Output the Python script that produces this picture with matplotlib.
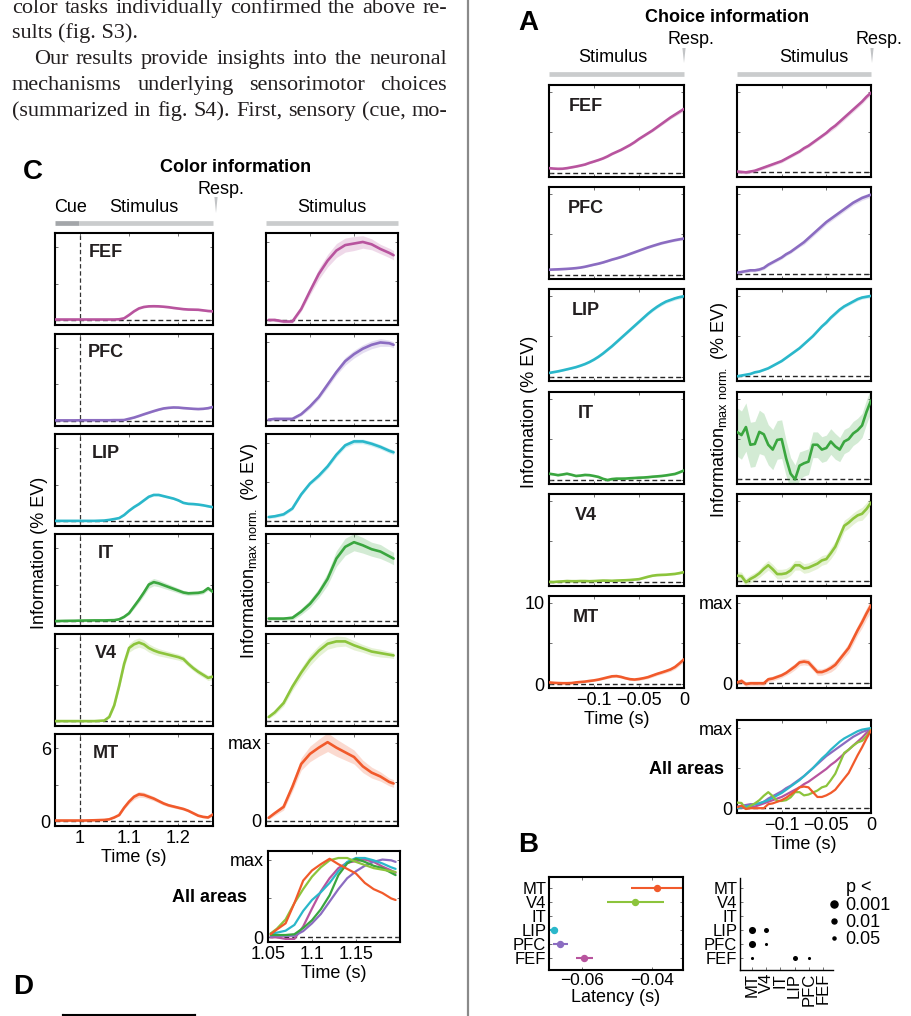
import numpy as np
import matplotlib
matplotlib.use('Agg')
import matplotlib.pyplot as plt
from matplotlib.lines import Line2D

plt.rcParams['font.family'] = ['Liberation Sans', 'DejaVu Sans']
plt.rcParams['mathtext.fontset'] = 'custom'
plt.rcParams['mathtext.rm'] = 'Liberation Sans'

# ---------------- data ----------------
areas = ['FEF', 'PFC', 'LIP', 'IT', 'V4', 'MT']
colors = {'FEF': '#b8549e', 'PFC': '#8b6cc1', 'LIP': '#2ab7ca',
          'IT': '#3aa63f', 'V4': '#8cc43c', 'MT': '#f15a2b'}

# C, color information, % EV (aligned to cue)
t_c_abs = [0.95, 0.97, 0.99, 1.01, 1.03, 1.05, 1.06, 1.07, 1.08, 1.09, 1.10, 1.11, 1.12, 1.13,
           1.14, 1.15, 1.16, 1.17, 1.18, 1.19, 1.20, 1.21, 1.22, 1.23, 1.24, 1.25, 1.26, 1.27]
c_abs_fef = [0.05, 0.05, 0.05, 0.05, 0.05, 0.05, 0.05, 0.05, 0.07, 0.15, 0.42, 0.72, 0.96, 1.08,
             1.13, 1.14, 1.13, 1.1, 1.06, 1.0, 0.95, 0.9, 0.87, 0.86, 0.85, 0.8, 0.75, 0.72]
c_abs_pfc = [0.02, 0.02, 0.02, 0.03, 0.03, 0.03, 0.03, 0.04, 0.04, 0.05, 0.15, 0.25, 0.38, 0.52,
             0.65, 0.78, 0.9, 1.0, 1.05, 1.08, 1.07, 1.03, 1.0, 0.97, 0.95, 0.97, 1.02, 1.12]
c_abs_lip = [0.02, 0.02, 0.02, 0.02, 0.02, 0.05, 0.1, 0.17, 0.25, 0.5, 0.85, 1.15, 1.4, 1.7,
             2.0, 2.15, 2.15, 2.05, 1.95, 1.85, 1.7, 1.5, 1.42, 1.4, 1.36, 1.3, 1.22, 1.14]
c_abs_it = [0.0, 0.02, 0.03, 0.05, 0.06, 0.06, 0.07, 0.08, 0.15, 0.35, 0.65, 1.2, 1.75, 2.35,
            3.0, 3.2, 3.1, 2.95, 2.8, 2.65, 2.5, 2.35, 2.28, 2.3, 2.32, 2.4, 2.7, 2.4]
c_abs_v4 = [0.0, 0.0, 0.0, 0.0, 0.0, 0.05, 0.35, 1.3, 2.9, 4.7, 6.0, 6.3, 6.45, 6.3,
            6.0, 5.8, 5.65, 5.55, 5.45, 5.35, 5.25, 5.1, 4.7, 4.35, 4.05, 3.8, 3.55, 3.65]
c_abs_mt = [0.05, 0.05, 0.05, 0.05, 0.07, 0.1, 0.15, 0.3, 0.5, 1.1, 1.6, 2.0, 2.2, 2.15,
            2.0, 1.85, 1.65, 1.45, 1.3, 1.2, 1.1, 1.0, 0.85, 0.65, 0.45, 0.35, 0.3, 0.55]
c_abs_fef_se = [0.03, 0.03, 0.03, 0.03, 0.03, 0.03, 0.03, 0.03, 0.03, 0.04, 0.05, 0.06, 0.07, 0.07,
                0.07, 0.07, 0.07, 0.07, 0.07, 0.07, 0.07, 0.07, 0.07, 0.07, 0.07, 0.07, 0.07, 0.07]
c_abs_pfc_se = [0.03, 0.03, 0.03, 0.03, 0.03, 0.03, 0.03, 0.03, 0.03, 0.03, 0.04, 0.05, 0.05, 0.06,
                0.06, 0.06, 0.07, 0.07, 0.07, 0.07, 0.07, 0.07, 0.07, 0.07, 0.07, 0.07, 0.07, 0.07]
c_abs_lip_se = [0.03, 0.03, 0.03, 0.03, 0.03, 0.03, 0.03, 0.03, 0.04, 0.05, 0.06, 0.07, 0.08, 0.08,
                0.09, 0.09, 0.09, 0.09, 0.08, 0.08, 0.08, 0.08, 0.07, 0.07, 0.07, 0.07, 0.07, 0.07]
c_abs_it_se = [0.04, 0.04, 0.04, 0.04, 0.04, 0.04, 0.04, 0.04, 0.05, 0.08, 0.12, 0.18, 0.22, 0.26,
               0.3, 0.3, 0.28, 0.26, 0.24, 0.22, 0.2, 0.18, 0.17, 0.17, 0.17, 0.17, 0.18, 0.18]
c_abs_v4_se = [0.03, 0.03, 0.03, 0.03, 0.03, 0.04, 0.1, 0.2, 0.25, 0.3, 0.35, 0.38, 0.38, 0.36,
               0.34, 0.32, 0.3, 0.28, 0.27, 0.26, 0.25, 0.24, 0.23, 0.22, 0.22, 0.22, 0.22, 0.22]
c_abs_mt_se = [0.03, 0.03, 0.03, 0.03, 0.03, 0.03, 0.03, 0.03, 0.06, 0.12, 0.18, 0.22, 0.24, 0.22,
               0.2, 0.18, 0.16, 0.14, 0.13, 0.12, 0.11, 0.1, 0.1, 0.1, 0.09, 0.09, 0.09, 0.09]

# C, color information, max normalized
t_c_norm = [1.053, 1.06, 1.07, 1.08, 1.09, 1.10, 1.11, 1.12, 1.13, 1.14, 1.15, 1.16, 1.17, 1.18, 1.19, 1.195]
c_norm_fef = [0.0, 0.0, -0.02, -0.02, 0.14, 0.37, 0.59, 0.76, 0.89, 0.96, 0.98, 1.0, 0.97, 0.91, 0.86, 0.83]
c_norm_pfc = [0.01, 0.02, 0.02, 0.02, 0.08, 0.18, 0.3, 0.46, 0.62, 0.76, 0.85, 0.92, 0.97, 1.0, 0.99, 0.97]
c_norm_lip = [0.05, 0.06, 0.085, 0.16, 0.34, 0.48, 0.58, 0.7, 0.85, 0.97, 1.02, 1.02, 0.99, 0.95, 0.9, 0.88]
c_norm_it = [0.03, 0.03, 0.03, 0.04, 0.12, 0.22, 0.36, 0.54, 0.8, 0.95, 1.01, 0.97, 0.92, 0.89, 0.83, 0.8]
c_norm_v4 = [0.05, 0.11, 0.23, 0.44, 0.62, 0.78, 0.9, 0.99, 1.02, 1.02, 0.97, 0.93, 0.89, 0.87, 0.85, 0.84]
c_norm_mt = [0.04, 0.1, 0.18, 0.44, 0.73, 0.86, 0.94, 1.01, 0.94, 0.88, 0.82, 0.7, 0.62, 0.57, 0.5, 0.48]
c_norm_fef_se = [0.02, 0.02, 0.02, 0.02, 0.03, 0.05, 0.07, 0.08, 0.09, 0.09, 0.09, 0.08, 0.07, 0.06, 0.06, 0.06]
c_norm_pfc_se = [0.02, 0.02, 0.02, 0.02, 0.02, 0.03, 0.03, 0.04, 0.04, 0.05, 0.05, 0.05, 0.05, 0.05, 0.04, 0.04]
c_norm_lip_se = [0.02, 0.02, 0.02, 0.02, 0.02, 0.02, 0.03, 0.03, 0.03, 0.03, 0.03, 0.03, 0.03, 0.03, 0.03, 0.03]
c_norm_it_se = [0.02, 0.02, 0.02, 0.03, 0.04, 0.05, 0.06, 0.08, 0.1, 0.11, 0.11, 0.1, 0.09, 0.09, 0.08, 0.08]
c_norm_v4_se = [0.02, 0.03, 0.04, 0.05, 0.06, 0.07, 0.07, 0.07, 0.07, 0.06, 0.06, 0.05, 0.05, 0.05, 0.04, 0.04]
c_norm_mt_se = [0.02, 0.03, 0.04, 0.06, 0.08, 0.1, 0.11, 0.12, 0.11, 0.1, 0.09, 0.08, 0.07, 0.06, 0.05, 0.05]

# A, choice information (aligned to response)
t_a = [-0.15, -0.145, -0.14, -0.135, -0.13, -0.125, -0.12, -0.115, -0.11, -0.105, -0.10,
       -0.095, -0.09, -0.085, -0.08, -0.075, -0.07, -0.065, -0.06, -0.055, -0.05,
       -0.045, -0.04, -0.035, -0.03, -0.025, -0.02, -0.015, -0.01, -0.005, 0.0]
a_abs_fef = [0.6, 0.55, 0.52, 0.53, 0.6, 0.7, 0.8, 0.92, 1.05, 1.25, 1.42, 1.6, 1.8, 2.05, 2.35, 2.6,
             2.85, 3.15, 3.45, 3.8, 4.2, 4.55, 4.9, 5.25, 5.65, 6.05, 6.45, 6.85, 7.2, 7.55, 7.9]
a_abs_pfc = [0.65, 0.68, 0.7, 0.73, 0.76, 0.8, 0.85, 0.92, 1.02, 1.15, 1.28, 1.4, 1.55, 1.72, 1.9, 2.05,
             2.22, 2.4, 2.6, 2.8, 3.0, 3.2, 3.4, 3.58, 3.75, 3.92, 4.05, 4.18, 4.3, 4.4, 4.5]
a_abs_lip = [0.5, 0.6, 0.7, 0.82, 0.95, 1.08, 1.22, 1.4, 1.6, 1.85, 2.15, 2.5, 2.9, 3.35, 3.8, 4.3,
             4.8, 5.3, 5.8, 6.3, 6.8, 7.3, 7.8, 8.25, 8.65, 9.0, 9.3, 9.5, 9.7, 9.85, 9.95]
a_abs_it = [0.78, 0.7, 0.6, 0.68, 0.78, 0.65, 0.5, 0.55, 0.63, 0.6, 0.5, 0.38, 0.15, 0.0, 0.12, 0.17,
            0.17, 0.18, 0.22, 0.25, 0.29, 0.31, 0.35, 0.41, 0.45, 0.5, 0.57, 0.66, 0.75, 0.95, 1.18]
a_abs_v4 = [0.02, 0.0, 0.05, 0.08, 0.12, 0.1, 0.1, 0.12, 0.12, 0.1, 0.12, 0.15, 0.18, 0.17, 0.15, 0.18,
            0.2, 0.22, 0.25, 0.3, 0.35, 0.5, 0.65, 0.78, 0.85, 0.88, 0.9, 0.95, 1.0, 1.1, 1.22]
a_abs_mt = [0.2, 0.15, 0.12, 0.1, 0.1, 0.12, 0.2, 0.25, 0.3, 0.38, 0.45, 0.55, 0.68, 0.82, 0.95, 0.98,
            0.88, 0.72, 0.6, 0.55, 0.62, 0.72, 0.85, 1.05, 1.25, 1.42, 1.6, 1.8, 2.1, 2.55, 3.05]
a_abs_fef_se = [0.1, 0.1, 0.1, 0.1, 0.1, 0.1, 0.1, 0.1, 0.1, 0.1, 0.1, 0.1, 0.12, 0.12, 0.12, 0.12,
                0.13, 0.13, 0.13, 0.14, 0.14, 0.15, 0.15, 0.16, 0.17, 0.18, 0.19, 0.2, 0.22, 0.24, 0.26]
a_abs_pfc_se = [0.08, 0.08, 0.08, 0.08, 0.08, 0.08, 0.08, 0.08, 0.09, 0.09, 0.09, 0.09, 0.1, 0.1, 0.1, 0.1,
                0.11, 0.11, 0.11, 0.12, 0.12, 0.12, 0.13, 0.13, 0.13, 0.14, 0.14, 0.14, 0.15, 0.15, 0.15]
a_abs_lip_se = [0.1, 0.1, 0.1, 0.1, 0.1, 0.1, 0.1, 0.11, 0.11, 0.12, 0.12, 0.13, 0.13, 0.14, 0.14, 0.15,
                0.15, 0.16, 0.16, 0.17, 0.17, 0.18, 0.18, 0.19, 0.19, 0.2, 0.2, 0.21, 0.22, 0.23, 0.24]
a_abs_it_se = [0.12, 0.12, 0.12, 0.12, 0.12, 0.12, 0.12, 0.12, 0.12, 0.12, 0.12, 0.12, 0.12, 0.12, 0.11, 0.11,
               0.11, 0.11, 0.11, 0.11, 0.11, 0.11, 0.11, 0.11, 0.11, 0.11, 0.12, 0.12, 0.12, 0.13, 0.14]
a_abs_v4_se = [0.08, 0.08, 0.08, 0.08, 0.08, 0.08, 0.08, 0.08, 0.08, 0.08, 0.08, 0.08, 0.08, 0.08, 0.08, 0.08,
               0.08, 0.08, 0.08, 0.08, 0.08, 0.09, 0.09, 0.09, 0.09, 0.1, 0.1, 0.1, 0.1, 0.11, 0.12]
a_abs_mt_se = [0.1, 0.1, 0.1, 0.1, 0.1, 0.1, 0.1, 0.1, 0.11, 0.11, 0.12, 0.12, 0.13, 0.14, 0.15, 0.15,
               0.15, 0.15, 0.15, 0.15, 0.16, 0.17, 0.18, 0.19, 0.2, 0.21, 0.22, 0.24, 0.26, 0.28, 0.3]

a_norm_fef = [0.01, 0.005, 0.0, 0.01, 0.02, 0.04, 0.06, 0.08, 0.1, 0.12, 0.14, 0.17, 0.2, 0.23, 0.26, 0.3,
              0.33, 0.37, 0.41, 0.45, 0.49, 0.54, 0.58, 0.63, 0.68, 0.73, 0.78, 0.83, 0.88, 0.94, 0.99]
a_norm_pfc = [0.02, 0.03, 0.04, 0.05, 0.05, 0.06, 0.08, 0.12, 0.15, 0.18, 0.21, 0.25, 0.28, 0.32, 0.36, 0.4,
              0.45, 0.5, 0.55, 0.6, 0.65, 0.69, 0.73, 0.77, 0.81, 0.85, 0.89, 0.92, 0.95, 0.97, 0.99]
a_norm_lip = [0.0, 0.01, 0.02, 0.03, 0.05, 0.06, 0.08, 0.1, 0.13, 0.16, 0.19, 0.23, 0.27, 0.31, 0.35, 0.4,
              0.45, 0.5, 0.56, 0.62, 0.67, 0.73, 0.78, 0.83, 0.87, 0.9, 0.93, 0.96, 0.98, 0.99, 1.0]
a_norm_it = [0.59, 0.55, 0.65, 0.43, 0.44, 0.59, 0.56, 0.43, 0.37, 0.49, 0.5, 0.26, 0.07, 0.0, 0.17, 0.2,
             0.22, 0.43, 0.43, 0.37, 0.39, 0.47, 0.41, 0.37, 0.47, 0.5, 0.57, 0.61, 0.67, 0.84, 0.98]
a_norm_v4 = [0.07, 0.065, -0.01, 0.03, 0.06, 0.1, 0.155, 0.2, 0.15, 0.09, 0.09, 0.1, 0.135, 0.2, 0.2, 0.16,
             0.17, 0.195, 0.22, 0.26, 0.277, 0.35, 0.43, 0.56, 0.69, 0.73, 0.78, 0.82, 0.84, 0.9, 0.98]
a_norm_mt = [0.01, 0.03, -0.01, 0.0, 0.0, 0.0, 0.0, 0.05, 0.06, 0.08, 0.1, 0.13, 0.17, 0.21, 0.26, 0.27,
             0.26, 0.2, 0.14, 0.14, 0.16, 0.19, 0.23, 0.3, 0.37, 0.44, 0.55, 0.66, 0.76, 0.87, 0.97]
a_norm_fef_se = [0.02, 0.02, 0.02, 0.02, 0.02, 0.02, 0.02, 0.02, 0.02, 0.02, 0.02, 0.02, 0.02, 0.02, 0.02, 0.02,
                 0.02, 0.02, 0.02, 0.02, 0.02, 0.03, 0.03, 0.03, 0.03, 0.03, 0.03, 0.03, 0.03, 0.03, 0.03]
a_norm_pfc_se = [0.02, 0.02, 0.02, 0.02, 0.02, 0.02, 0.02, 0.02, 0.02, 0.02, 0.02, 0.02, 0.02, 0.02, 0.02, 0.03,
                 0.03, 0.03, 0.03, 0.03, 0.03, 0.03, 0.03, 0.03, 0.03, 0.03, 0.03, 0.03, 0.03, 0.03, 0.03]
a_norm_lip_se = [0.01, 0.01, 0.01, 0.01, 0.01, 0.01, 0.01, 0.01, 0.01, 0.01, 0.01, 0.01, 0.01, 0.01, 0.01, 0.01,
                 0.01, 0.01, 0.01, 0.01, 0.02, 0.02, 0.02, 0.02, 0.02, 0.02, 0.02, 0.02, 0.02, 0.02, 0.02]
a_norm_it_se = [0.3, 0.3, 0.3, 0.28, 0.28, 0.27, 0.26, 0.25, 0.25, 0.24, 0.24, 0.22, 0.2, 0.18, 0.17, 0.16,
                0.16, 0.16, 0.16, 0.16, 0.16, 0.16, 0.16, 0.15, 0.15, 0.15, 0.15, 0.15, 0.15, 0.15, 0.15]
a_norm_v4_se = [0.05, 0.05, 0.05, 0.05, 0.05, 0.05, 0.06, 0.06, 0.06, 0.06, 0.06, 0.06, 0.06, 0.06, 0.06, 0.06,
                0.06, 0.06, 0.06, 0.06, 0.06, 0.07, 0.07, 0.07, 0.07, 0.07, 0.07, 0.07, 0.08, 0.08, 0.08]
a_norm_mt_se = [0.03, 0.03, 0.03, 0.03, 0.03, 0.03, 0.03, 0.03, 0.03, 0.03, 0.03, 0.03, 0.04, 0.04, 0.04, 0.04,
                0.04, 0.04, 0.04, 0.04, 0.04, 0.05, 0.05, 0.05, 0.05, 0.06, 0.06, 0.06, 0.07, 0.07, 0.08]

# B, choice latency (s) and significance of pairwise differences
lat_areas = ['MT', 'V4', 'LIP', 'PFC', 'FEF']
lat_mean = [-0.0386, -0.0447, -0.0682, -0.0664, -0.0594]
lat_lo = [-0.0461, -0.0529, -0.0694, -0.0684, -0.0617]
lat_hi = [-0.0300, -0.0365, -0.0670, -0.0641, -0.0568]
b_rows = ['MT', 'V4', 'IT', 'LIP', 'PFC', 'FEF']
sig_row = ['LIP', 'LIP', 'PFC', 'PFC', 'FEF', 'FEF', 'FEF']
sig_col = ['MT', 'V4', 'MT', 'V4', 'MT', 'LIP', 'PFC']
sig_p = [0.001, 0.01, 0.001, 0.05, 0.05, 0.01, 0.05]
p_levels = [0.001, 0.01, 0.05]
p_sizes = [26, 13, 5]

body = ['color tasks individually confirmed the above re-',
        'sults (fig. S3).',
        'Our results provide insights into the neuronal',
        'mechanisms underlying sensorimotor choices',
        '(summarized in fig. S4). First, sensory (cue, mo-']

c_abs = {'FEF': (c_abs_fef, c_abs_fef_se), 'PFC': (c_abs_pfc, c_abs_pfc_se),
         'LIP': (c_abs_lip, c_abs_lip_se), 'IT': (c_abs_it, c_abs_it_se),
         'V4': (c_abs_v4, c_abs_v4_se), 'MT': (c_abs_mt, c_abs_mt_se)}
c_norm = {'FEF': (c_norm_fef, c_norm_fef_se), 'PFC': (c_norm_pfc, c_norm_pfc_se),
          'LIP': (c_norm_lip, c_norm_lip_se), 'IT': (c_norm_it, c_norm_it_se),
          'V4': (c_norm_v4, c_norm_v4_se), 'MT': (c_norm_mt, c_norm_mt_se)}
a_abs = {'FEF': (a_abs_fef, a_abs_fef_se), 'PFC': (a_abs_pfc, a_abs_pfc_se),
         'LIP': (a_abs_lip, a_abs_lip_se), 'IT': (a_abs_it, a_abs_it_se),
         'V4': (a_abs_v4, a_abs_v4_se), 'MT': (a_abs_mt, a_abs_mt_se)}
a_norm = {'FEF': (a_norm_fef, a_norm_fef_se), 'PFC': (a_norm_pfc, a_norm_pfc_se),
          'LIP': (a_norm_lip, a_norm_lip_se), 'IT': (a_norm_it, a_norm_it_se),
          'V4': (a_norm_v4, a_norm_v4_se), 'MT': (a_norm_mt, a_norm_mt_se)}

# ---------------- layout ----------------
W, H = 912, 1016
fig = plt.figure(figsize=(W / 100, H / 100), dpi=100)

ov = fig.add_axes([0, 0, 1, 1], zorder=-1)
ov.set_xlim(0, W)
ov.set_ylim(H, 0)
ov.axis('off')

BAR_DARK, BAR_LIGHT = '#a3a6a9', '#cacccd'


def px_axes(x0, y0, x1, y1):
    return fig.add_axes([x0 / W, 1 - y1 / H, (x1 - x0) / W, (y1 - y0) / H])


def ftext(x, y, s, **kw):
    kw.setdefault('fontsize', 13)
    kw.setdefault('ha', 'center')
    kw.setdefault('va', 'center')
    return fig.text(x / W, 1 - y / H, s, **kw)


def panel(rect, xlim, ylim, xticks, yticks):
    ax = px_axes(*rect)
    ax.set_xlim(*xlim)
    ax.set_ylim(*ylim)
    ax.set_xticks(xticks)
    ax.set_yticks(yticks)
    ax.set_xticklabels([])
    ax.set_yticklabels([])
    ax.tick_params(direction='in', length=2.5, width=0.6, top=True, right=True,
                   labelsize=13, pad=3, color='0.35')
    for s in ax.spines.values():
        s.set_linewidth(1.5)
    ax.axhline(0, color='0.15', ls=(0, (3.5, 2.2)), lw=1.0, zorder=1)
    return ax


def trace(ax, t, y, se, color, lw=1.9, band=True):
    t, y, se = np.asarray(t), np.asarray(y), np.asarray(se)
    if band:
        ax.fill_between(t, y - se, y + se, color=color, alpha=0.22, lw=0, zorder=2)
    ax.plot(t, y, color=color, lw=lw, zorder=3, solid_capstyle='round')


def bar(x0, x1, y, color):
    ov.plot([x0, x1], [y, y], color=color, lw=3.4, solid_capstyle='butt')


def wedge(x, y0, y1):
    ov.fill([x - 1.6, x + 1.6, x], [y0, y0, y1], color='#c2c4c6', lw=0)


# separator between text columns
ov.plot([468, 468], [0, H], color='#8a8a8a', lw=1.6)

# body text (justified)
renderer = fig.canvas.get_renderer()
body_x0 = [12, 12, 34, 12, 12]
body_just = [True, False, True, True, True]
body_base = [13, 38, 64, 90, 116]
for line, x0, just, yb in zip(body, body_x0, body_just, body_base):
    kw = dict(family=['Liberation Serif', 'DejaVu Serif'], fontsize=16, va='baseline', color='#231f20')
    if not just:
        fig.text(x0 / W, 1 - yb / H, line, **kw)
        continue
    words = line.split(' ')
    objs = [fig.text(0, 1 - yb / H, w, **kw) for w in words]
    widths = [o.get_window_extent(renderer).width for o in objs]
    gap = (447 - x0 - sum(widths)) / (len(words) - 1)
    x = x0
    for o, wd in zip(objs, widths):
        o.set_x(x / W)
        x += wd + gap

letter_kw = dict(family=['Liberation Sans Narrow', 'Liberation Sans'], fontweight='bold', fontsize=20)
ftext(33, 172, 'C', **letter_kw)
ftext(528, 23, 'A', **letter_kw)
ftext(528, 845, 'B', **letter_kw)
ftext(23, 987, 'D', **letter_kw)

# ---------------- panel C ----------------
ftext(236, 167, 'Color information', fontweight='bold')
ftext(221, 189, 'Resp.')
ftext(71, 207, 'Cue')
ftext(144, 207, 'Stimulus')
ftext(332, 207, 'Stimulus')
bar(55, 79, 223, BAR_DARK)
bar(79, 213, 223, BAR_LIGHT)
bar(266, 398, 223, BAR_LIGHT)
wedge(216, 197, 213)

c_tops = [233, 333.5, 434, 534, 634, 734]
for i, a in enumerate(areas):
    top = c_tops[i]
    ax = panel((55, top, 213, top + 92), (0.95, 1.27), (-0.4, 7.15), [1.0, 1.1, 1.2], [0, 3, 6])
    ax.axvline(1.0, color='0.2', ls=(0, (3.5, 2.2)), lw=0.9, zorder=1)
    y, se = c_abs[a]
    trace(ax, t_c_abs, y, se, colors[a])
    ax.text(0.323, 0.79, a, transform=ax.transAxes, fontsize=13, fontweight='bold',
            ha='center', va='center', color='#231f20')
    if a == 'MT':
        ax.set_xticklabels(['1', '1.1', '1.2'])
        ax.set_yticklabels(['0', '', '6'])
        ax.set_xlabel('Time (s)', fontsize=13, labelpad=1)

    axr = panel((266, top, 398, top + 92), (1.05, 1.2), (-0.065, 1.115), [1.05, 1.1, 1.15], [0, 0.5, 1])
    y, se = c_norm[a]
    trace(axr, t_c_norm, y, se, colors[a])
    if a == 'MT':
        axr.set_yticklabels(['0', '', 'max'])

ftext(40, 553, 'Information (% EV)', rotation=90)
ftext(250, 551, r'Information$_{\mathrm{max\ norm.}}$ (% EV)', rotation=90)

ax = panel((268, 851, 400, 942), (1.05, 1.2), (-0.06, 1.11), [1.05, 1.1, 1.15], [0, 0.5, 1])
for a in areas:
    y, se = c_norm[a]
    trace(ax, t_c_norm, y, se, colors[a], lw=1.6, band=False)
ax.set_xticklabels(['1.05', '1.1', '1.15'])
ax.set_yticklabels(['0', '', 'max'])
ax.set_xlabel('Time (s)', fontsize=13, labelpad=1)
ftext(247, 898, 'All areas', fontweight='bold', ha='right')

# ---------------- panel A ----------------
ftext(727, 18, 'Choice information', fontweight='bold')
ftext(613, 57, 'Stimulus')
ftext(691, 40, 'Resp.')
ftext(814, 57, 'Stimulus')
ftext(879, 40, 'Resp.')
bar(549, 684, 74, BAR_LIGHT)
bar(737, 871, 74, BAR_LIGHT)
wedge(684, 48, 63)
wedge(872, 48, 63)

a_tops = [85, 187, 289, 392, 494, 596]
for i, a in enumerate(areas):
    top = a_tops[i]
    ax = panel((549, top, 684, top + 92), (-0.15, 0.0), (-0.49, 10.85), [-0.1, -0.05, 0.0], [0, 5, 10])
    y, se = a_abs[a]
    trace(ax, t_a, y, se, colors[a])
    ax.text(0.274, 0.77, a, transform=ax.transAxes, fontsize=13, fontweight='bold',
            ha='center', va='center', color='#231f20')
    if a == 'MT':
        ax.set_xticklabels(['\u22120.1', '\u22120.05', '0'])
        ax.set_yticklabels(['0', '', '10'])
        ax.set_xlabel('Time (s)', fontsize=13, labelpad=1)

    axr = panel((737, top, 871, top + 92), (-0.15, 0.0), (-0.058, 1.086), [-0.1, -0.05, 0.0], [0, 0.5, 1])
    y, se = a_norm[a]
    trace(axr, t_a, y, se, colors[a])
    if a == 'MT':
        axr.set_yticklabels(['0', '', 'max'])

ftext(529, 412, 'Information (% EV)', rotation=90)
ftext(720, 410, r'Information$_{\mathrm{max\ norm.}}$ (% EV)', rotation=90)

ax = panel((737, 720, 871, 813), (-0.15, 0.0), (-0.06, 1.10), [-0.1, -0.05, 0.0], [0, 0.5, 1])
for a in ['FEF', 'PFC', 'LIP', 'V4', 'MT']:
    y, se = a_norm[a]
    trace(ax, t_a, y, se, colors[a], lw=1.6, band=False)
ax.set_xticklabels(['\u22120.1', '\u22120.05', '0'])
ax.set_yticklabels(['0', '', 'max'])
ax.set_xlabel('Time (s)', fontsize=13, labelpad=1)
ftext(724, 770, 'All areas', fontweight='bold', ha='right')

# ---------------- panel B ----------------
axb = px_axes(549, 877, 683, 970)
axb.set_xlim(-0.0696, -0.031)
axb.set_ylim(5.857, -0.786)
for a, m, lo, hi in zip(lat_areas, lat_mean, lat_lo, lat_hi):
    yi = b_rows.index(a)
    axb.errorbar([m], [yi], xerr=[[m - lo], [hi - m]], fmt='o', color=colors[a], ms=4.3,
                 elinewidth=1.5, capsize=0, clip_on=True)
axb.set_yticks(range(len(b_rows)))
axb.set_yticklabels(b_rows)
axb.set_xticks([-0.06, -0.04])
axb.set_xticklabels(['\u22120.06', '\u22120.04'])
axb.tick_params(direction='in', length=2.5, width=0.6, top=True, right=True, labelsize=12.5,
                pad=2, color='0.35')
axb.tick_params(axis='y', labelsize=12)
for s in axb.spines.values():
    s.set_linewidth(1.5)
axb.set_xlabel('Latency (s)', fontsize=13, labelpad=1)

axs = px_axes(740, 878, 833, 970)
axs.set_xlim(-0.857, 5.71)
axs.set_ylim(5.857, -0.714)
for r, c, p in zip(sig_row, sig_col, sig_p):
    axs.scatter(b_rows.index(c), b_rows.index(r), s=p_sizes[p_levels.index(p)], color='k', lw=0)
axs.set_yticks(range(len(b_rows)))
axs.set_yticklabels(b_rows)
axs.set_xticks(range(len(b_rows)))
axs.set_xticklabels(b_rows, rotation=90)
axs.tick_params(direction='in', length=2.5, width=0.6, labelsize=12, pad=2, color='0.35')
axs.spines['top'].set_visible(False)
axs.spines['right'].set_visible(False)
for s in ['left', 'bottom']:
    axs.spines[s].set_linewidth(1.0)

handles = [Line2D([], [], marker='o', ls='', color='k', markersize=np.sqrt(s)) for s in p_sizes]
axs.legend(handles, ['0.001', '0.01', '0.05'], frameon=False, loc='upper left',
           bbox_to_anchor=(829 / W, 1 - 897 / H), bbox_transform=fig.transFigure,
           fontsize=13, handlelength=0.6, handletextpad=0.3, labelspacing=0.0,
           borderaxespad=0, borderpad=0)
ftext(846, 887, 'p <', ha='left')

# ---------------- panel D (top edge only) ----------------
axd = px_axes(63, 1015, 195, 1115)
axd.set_xlim(63, 195)
axd.set_ylim(0, 1)
axd.set_xticks([87, 132, 177])
axd.set_xticklabels([])
axd.set_yticks([])
axd.tick_params(direction='in', length=2.5, width=0.6, top=True, bottom=False, color='0.35')
for s in axd.spines.values():
    s.set_linewidth(1.5)

fig.savefig('out.png', dpi=100)
